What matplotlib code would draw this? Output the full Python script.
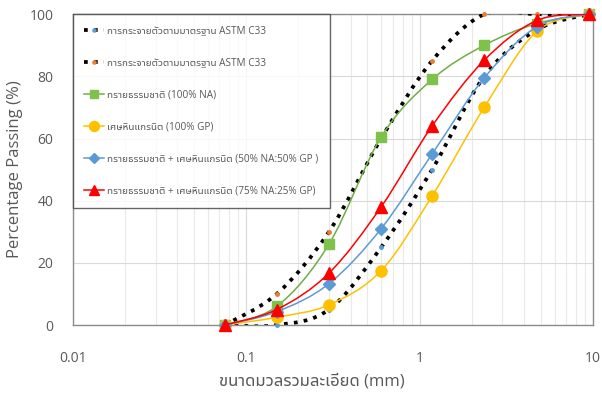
import numpy as np
import matplotlib
matplotlib.use("Agg")
import matplotlib.pyplot as plt
from matplotlib.path import Path
from matplotlib.patches import PathPatch
from matplotlib.lines import Line2D
from matplotlib.ticker import FixedLocator, FuncFormatter, LogLocator, NullFormatter

plt.rcParams['font.family'] = ['Open Sans', 'Noto Sans Thai UI', 'DejaVu Sans']

# sieve openings (mm) and percent passing
sieve = [0.075, 0.15, 0.3, 0.6, 1.18, 2.36, 4.75, 9.5]
astm_lower = [0, 0, 5, 25, 50, 80, 95, 100]
astm_upper = [0, 10, 30, 60, 85, 100, 100, 100]
sand_na = [0, 6, 26, 60.5, 79, 90, 97, 100]
granite_gp = [0, 2.5, 6.5, 17.5, 41.5, 70, 94.5, 100]
mix_50_50 = [0, 4.3, 13.3, 31, 55, 79.5, 96, 100]
mix_75_25 = [0, 5, 16.7, 38, 64, 85.2, 98, 100]

labels = [
    "การกระจายตัวตามมาตรฐาน ASTM C33",
    "การกระจายตัวตามมาตรฐาน ASTM C33",
    "ทรายธรรมชาติ (100% NA)",
    "เศษหินแกรนิต (100% GP)",
    "ทรายธรรมชาติ + เศษหินแกรนิต (50% NA:50% GP )",
    "ทรายธรรมชาติ + เศษหินแกรนิต (75% NA:25% GP)",
]

TEXT = '#595959'


def smooth_path(x, y):
    # Catmull-Rom style bezier through the points, built in log-x space
    lx = np.log10(np.asarray(x, float))
    yy = np.asarray(y, float)
    px = np.concatenate([[lx[0]], lx, [lx[-1]]])
    py = np.concatenate([[yy[0]], yy, [yy[-1]]])
    verts = [(lx[0], yy[0])]
    codes = [Path.MOVETO]
    for i in range(1, len(px) - 2):
        c1 = (px[i] + (px[i + 1] - px[i - 1]) / 6, py[i] + (py[i + 1] - py[i - 1]) / 6)
        c2 = (px[i + 1] - (px[i + 2] - px[i]) / 6, py[i + 1] - (py[i + 2] - py[i]) / 6)
        verts += [c1, c2, (px[i + 1], py[i + 1])]
        codes += [Path.CURVE4] * 3
    verts = [(10 ** vx, vy) for vx, vy in verts]
    return Path(verts, codes)


fig = plt.figure(figsize=(6.02, 3.94), dpi=100)
ax = fig.add_axes([0.121, 0.175, 0.864, 0.789])
ax.set_xscale('log')
ax.set_xlim(0.01, 10)
ax.set_ylim(0, 100)

series = [
    (astm_lower, dict(color='black', ls=':', lw=2.7), dict(marker='o', ms=2.5, mfc='#5B9BD5', mec='#5B9BD5')),
    (astm_upper, dict(color='black', ls=':', lw=2.7), dict(marker='o', ms=2.5, mfc='#ED7D31', mec='#ED7D31')),
    (sand_na, dict(color='#70AD47', ls='-', lw=1.1), dict(marker='s', ms=7, mfc='#7DC24B', mec='#7DC24B')),
    (granite_gp, dict(color='#FFC000', ls='-', lw=1.1), dict(marker='o', ms=8, mfc='#FFC000', mec='#FFC000')),
    (mix_50_50, dict(color='#5B9BD5', ls='-', lw=1.1), dict(marker='D', ms=6, mfc='#5B9BD5', mec='#5B9BD5')),
    (mix_75_25, dict(color='#FF0000', ls='-', lw=1.1), dict(marker='^', ms=8, mfc='#FF0000', mec='#FF0000')),
]

handles = []
for i, (vals, line_kw, mark_kw) in enumerate(series):
    patch = PathPatch(smooth_path(sieve, vals), fill=False, edgecolor=line_kw['color'],
                      linestyle=line_kw['ls'], linewidth=line_kw['lw'], zorder=2 + i)
    ax.add_patch(patch)
    ax.plot(sieve, vals, ls='none', clip_on=False, zorder=3 + i, **mark_kw)
    handles.append(Line2D([], [], color=line_kw['color'], ls=line_kw['ls'], lw=line_kw['lw'], **mark_kw))

# grid and frame
ax.yaxis.set_major_locator(FixedLocator([0, 20, 40, 60, 80, 100]))
ax.xaxis.set_major_locator(FixedLocator([0.01, 0.1, 1, 10]))
ax.xaxis.set_minor_locator(LogLocator(base=10, subs=np.arange(2, 10)))
ax.xaxis.set_major_formatter(FuncFormatter(lambda v, p: f"{v:g}"))
ax.xaxis.set_minor_formatter(NullFormatter())
ax.grid(True, which='major', color='#d9d9d9', lw=0.8)
ax.grid(True, which='minor', axis='x', color='#e9e9e9', lw=0.8)
ax.set_axisbelow(True)
for sp in ax.spines.values():
    sp.set_color('#8c8c8c')
    sp.set_linewidth(1)
ax.tick_params(which='both', length=0, colors=TEXT, labelsize=10)
ax.tick_params(axis='y', pad=14)
ax.tick_params(axis='x', pad=19)

ax.set_ylabel("Percentage Passing (%)", fontsize=12, color=TEXT)
ax.yaxis.set_label_coords(-0.095, 0.5)
ax.set_xlabel("ขนาดมวลรวมละเอียด (mm)", fontsize=12, color=TEXT)
ax.xaxis.set_label_coords(0.46, -0.155)

leg = ax.legend(handles, labels, loc='upper left', bbox_to_anchor=(0, 1), borderaxespad=0,
                fontsize=7.2, labelcolor=TEXT, frameon=True, fancybox=False,
                labelspacing=2.1, handlelength=2.0, handletextpad=0.3, numpoints=1,
                borderpad=1.15, markerscale=0.9)
leg.get_frame().set_edgecolor('#404040')
leg.get_frame().set_linewidth(1)
leg.set_zorder(20)

fig.savefig("out.png", dpi=100)
